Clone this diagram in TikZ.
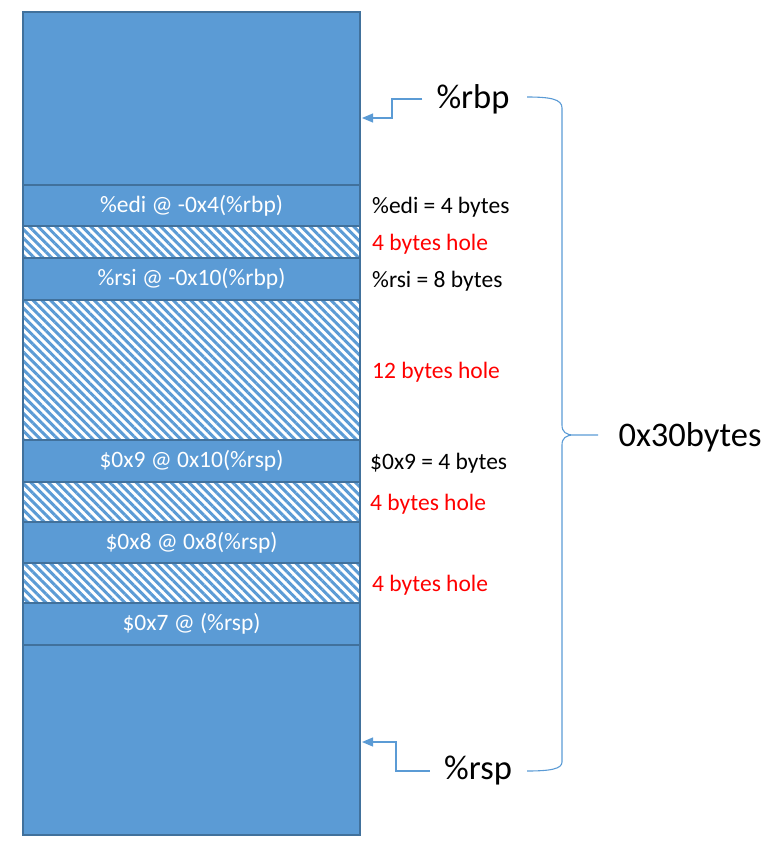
\documentclass[tikz,border=0pt]{standalone}
\usepackage{fontspec}
\setmainfont{Carlito}
\usetikzlibrary{positioning,arrows.meta,patterns.meta}

\definecolor{cellblue}{HTML}{5B9BD5}
\definecolor{celledge}{HTML}{41719C}
\definecolor{holered}{HTML}{FF0000}

\tikzset{
  cell/.style={draw=celledge, line width=2pt, fill=cellblue, text=white,
    minimum width=337pt, inner sep=0pt, outer sep=0pt,
    font=\fontsize{23.5}{28}\selectfont},
  hole/.style={cell, fill=none,
    pattern={Lines[angle=-45,distance=6.2pt,line width=3pt]},
    pattern color=cellblue},
  note/.style={inner sep=0pt, yshift=-2pt, font=\fontsize{23.5}{28}\selectfont},
  reg/.style={inner sep=14pt, font=\fontsize{34.5}{41}\selectfont},
  ptr/.style={draw=cellblue, line width=1.2pt, -{Triangle[length=11pt,width=9pt]}},
  brace/.style={draw=cellblue, line width=1.1pt}
}

\begin{document}
\begin{tikzpicture}[x=1pt,y=-1pt]
  \useasboundingbox (0,0) rectangle (767,846);

  % Stack frame
  \node[cell, minimum height=173pt, anchor=north west] (top) at (23,12) {};
  \node[cell, minimum height=41pt, below=0pt of top] (edi) {\%edi @ -0x4(\%rbp)};
  \node[hole, minimum height=32pt, below=0pt of edi] (hole1) {};
  \node[cell, minimum height=42pt, below=0pt of hole1] (rsi) {\%rsi @ -0x10(\%rbp)};
  \node[hole, minimum height=140pt, below=0pt of rsi] (hole2) {};
  \node[cell, minimum height=42pt, below=0pt of hole2] (nine) {\$0x9 @ 0x10(\%rsp)};
  \node[hole, minimum height=40pt, below=0pt of nine] (hole3) {};
  \node[cell, minimum height=41pt, below=0pt of hole3] (eight) {\$0x8 @ 0x8(\%rsp)};
  \node[hole, minimum height=40pt, below=0pt of eight] (hole4) {};
  \node[cell, minimum height=42pt, below=0pt of hole4] (seven) {\$0x7 @ (\%rsp)};
  \node[cell, minimum height=190pt, below=0pt of seven] (bottom) {};

  % Sizes
  \node[note, right=12pt of edi.east] (ediNote) {\%edi = 4 bytes};
  \node[note, text=holered, right=12pt of hole1.east] (hole1Note) {4 bytes hole};
  \node[note, right=12pt of rsi.east] (rsiNote) {\%rsi = 8 bytes};
  \node[note, text=holered, right=12pt of hole2.east] (hole2Note) {12 bytes hole};
  \node[note, right=10pt of nine.east] (nineNote) {\$0x9 = 4 bytes};
  \node[note, text=holered, right=10pt of hole3.east] (hole3Note) {4 bytes hole};
  \node[note, text=holered, right=12pt of hole4.east] (hole4Note) {4 bytes hole};

  % Registers
  \node[reg] (rbp) at (473,99) {\%rbp};
  \node[reg] (rsp) at (478,771) {\%rsp};
  \coordinate (rbpBend) at (392,118);
  \coordinate (rbpPtr) at (362,118);
  \coordinate (rspBend) at (396,742);
  \coordinate (rspPtr) at (362,742);
  \draw[ptr] (rbp.west) -| (rbpBend) -- (rbpPtr);
  \draw[ptr] (rsp.west) -| (rspBend) -- (rspPtr);

  % Brace
  \draw[brace] (527,97) .. controls (550,97) and (562,99) .. (562,108)
    -- (562,425) .. controls (562,432) and (566,435) .. (574,435) -- (598,435)
    (574,435) .. controls (566,435) and (562,438) .. (562,445)
    -- (562,762) .. controls (562,769) and (550,771) .. (527,771);
  \node[reg] (size) at (690,437) {0x30bytes};

\end{tikzpicture}
\end{document}
